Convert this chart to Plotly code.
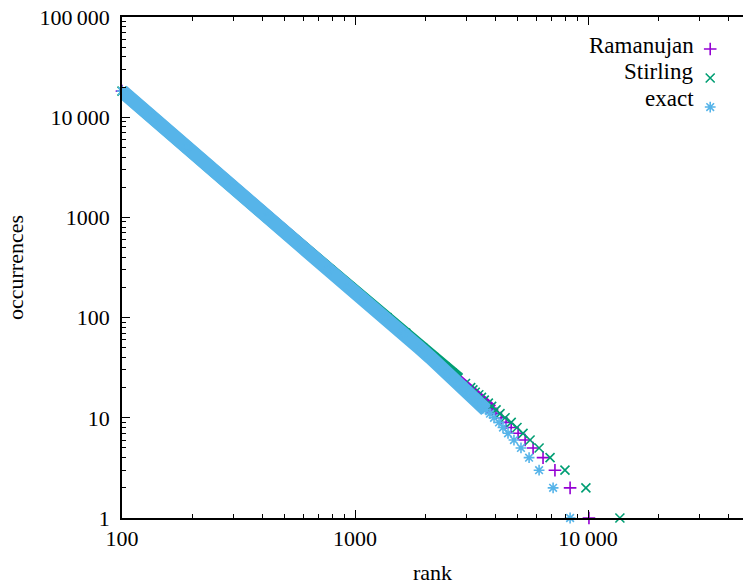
import plotly.graph_objects as go

# ---------------- data ----------------
occurrences = [1, 2, 3, 4, 5, 6, 7, 8, 9, 10, 11, 12, 13, 14, 15, 16, 17, 18, 19, 20,
               22, 25, 28, 32, 40, 50, 70, 100, 150, 200, 300, 500, 1000, 2000, 5000,
               10000, 18200]

rank_exact = [8375, 7080, 6165, 5585, 5155, 4810, 4535, 4315, 4150, 3950, 3795, 3650,
              3530, 3415, 3315, 3225, 3140, 3060, 2990, 2925, 2795, 2630, 2490, 2340,
              2105, 1890, 1610, 1345, 1087, 942, 770, 597, 423, 300, 190, 135, 100]

rank_ramanujan = [10090, 8375, 7210, 6410, 5810, 5370, 5010, 4680, 4450, 4240, 4025,
                  3873, 3710, 3589, 3448, 3354, 3234, 3152, 3080, 3013, 2865, 2683,
                  2540, 2375, 2126, 1909, 1610, 1345, 1087, 942, 770, 597, 423, 300,
                  190, 135, 100]

rank_stirling = [13700, 9790, 7960, 6870, 6165, 5640, 5260, 4955, 4680, 4405, 4190,
                 4030, 3858, 3733, 3587, 3489, 3397, 3280, 3205, 3136, 2980, 2770, 2610,
                 2434, 2179, 1947, 1650, 1372, 1103, 953, 778, 600, 423, 300, 190, 135,
                 100]

series_names = ["Ramanujan", "Stirling", "exact"]
y_tick_vals = [1, 10, 100, 1000, 10000, 100000]
y_tick_text = ["1", "10", "100", "1000", "10\u2009000", "100\u2009000"]
x_tick_vals = [100, 1000, 10000]
x_tick_text = ["100", "1000", "10\u2009000"]
x_minor = [m * 10 ** e for e in (2, 3, 4) for m in range(2, 10)]
y_minor = [m * 10 ** e for e in (0, 1, 2, 3, 4) for m in range(2, 10)]

# ---------------- styling ----------------
FONT = "Liberation Serif, Times New Roman, DejaVu Serif, serif"
colors = {"Ramanujan": "#9400d3", "Stirling": "#009e73", "exact": "#56b4e9"}
symbols = {"Ramanujan": "cross-thin-open", "Stirling": "x-thin-open",
           "exact": "asterisk-open"}
# where the dense markers merge into a continuous band
band_min_occ = {"Ramanujan": 12, "Stirling": 25, "exact": 12}
band_width = {"Ramanujan": 12, "Stirling": 13, "exact": 14}

ranks = {"Ramanujan": rank_ramanujan, "Stirling": rank_stirling, "exact": rank_exact}

fig = go.Figure()
for name in series_names:
    r = ranks[name]
    lim = band_min_occ[name]
    band_x = [x for x, y in zip(r, occurrences) if y >= lim]
    band_y = [y for y in occurrences if y >= lim]
    fig.add_trace(go.Scatter(x=band_x, y=band_y, mode="lines",
                             line=dict(color=colors[name], width=band_width[name]),
                             showlegend=False, hoverinfo="skip"))
    fig.add_trace(go.Scatter(x=r, y=occurrences, mode="markers", name=" ",
                             marker=dict(symbol=symbols[name], size=9,
                                         color=colors[name],
                                         line=dict(color=colors[name], width=1.6)),
                             cliponaxis=False, showlegend=True))

# legend labels (right aligned, symbols to their right via plotly legend)
legend_y = [0.943, 0.891, 0.838]
for name, yy in zip(series_names, legend_y):
    fig.add_annotation(text=name, xref="paper", yref="paper", x=0.925, y=yy,
                       xanchor="right", yanchor="middle", showarrow=False,
                       font=dict(family=FONT, size=23, color="black"))

axis_common = dict(type="log", showgrid=False, zeroline=False, showline=True,
                   linecolor="black", linewidth=1.5, ticks="inside", ticklen=8,
                   tickwidth=1, tickcolor="black",
                   tickfont=dict(family=FONT, size=22, color="black"))

fig.update_xaxes(**axis_common, range=[2, 4.665], tickmode="array",
                 tickvals=x_tick_vals, ticktext=x_tick_text, mirror="ticks",
                 minor=dict(ticks="inside", ticklen=4, tickcolor="black",
                            tickmode="array", tickvals=x_minor),
                 title=dict(text="rank", font=dict(family=FONT, size=22, color="black"),
                            standoff=14))
fig.update_yaxes(**axis_common, range=[0, 5], tickmode="array",
                 tickvals=y_tick_vals, ticktext=y_tick_text,
                 minor=dict(ticks="inside", ticklen=4, tickcolor="black",
                            tickmode="array", tickvals=y_minor),
                 ticklabelstandoff=6,
                 title=dict(text="occurrences",
                            font=dict(family=FONT, size=22, color="black"),
                            standoff=10))

fig.update_layout(width=743, height=587, plot_bgcolor="white", paper_bgcolor="white",
                  margin=dict(l=122, r=0, t=17, b=69),
                  legend=dict(x=0.915, y=0.975, xanchor="left", yanchor="top",
                              bgcolor="rgba(0,0,0,0)", font=dict(family=FONT, size=20),
                              itemwidth=30, tracegroupgap=0),
                  font=dict(family=FONT))

fig.write_html("out.html")
